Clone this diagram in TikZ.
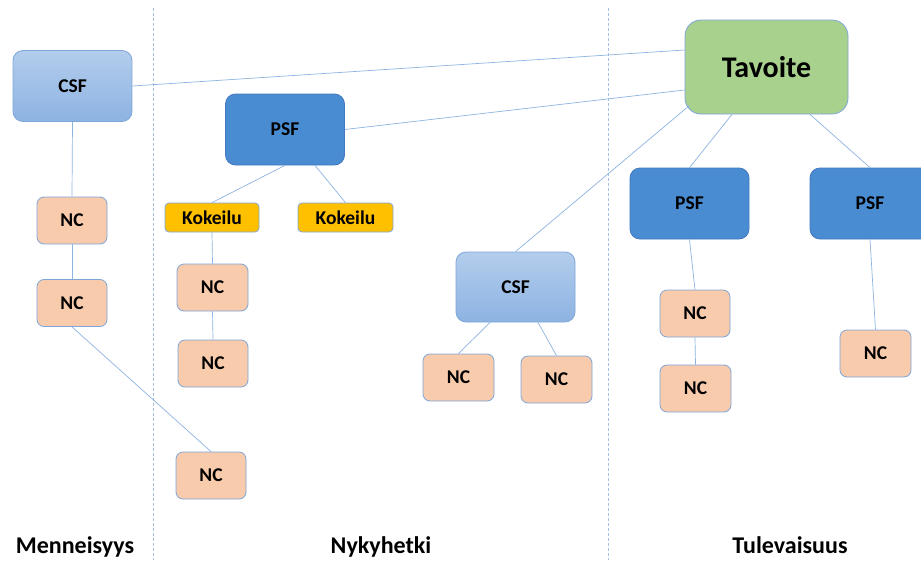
\documentclass[tikz,border=0pt]{standalone}
\usepackage{fontspec}
\setmainfont{Carlito}
\usetikzlibrary{calc}
\definecolor{csftop}{HTML}{B3CDEC}
\definecolor{csfbot}{HTML}{8DB3E2}
\definecolor{boxedge}{HTML}{7EA6D9}
\definecolor{psffill}{HTML}{4A8CD2}
\definecolor{psfedge}{HTML}{4279C0}
\definecolor{kokfill}{HTML}{FFC000}
\definecolor{ncfill}{HTML}{F8CBAD}
\definecolor{goalfill}{HTML}{A9D18E}
\definecolor{linkcol}{HTML}{8DB4E2}
\definecolor{divcol}{HTML}{A4BFE0}
\begin{document}
\begin{tikzpicture}[x=1pt,y=-1pt,
  box/.style={draw=boxedge, line width=0.8pt, inner sep=0pt, align=center,
              font=\fontsize{19.5}{21}\selectfont\bfseries},
  csf/.style={box, rounded corners=10pt, top color=csftop, bottom color=csfbot,
              minimum width=119pt, minimum height=71pt},
  psf/.style={box, rounded corners=10pt, draw=psfedge, fill=psffill,
              minimum width=119pt, minimum height=71pt},
  kok/.style={box, rounded corners=4pt, fill=kokfill,
              minimum width=94pt, minimum height=29pt},
  nc/.style={box, rounded corners=7pt, fill=ncfill,
             minimum width=70pt, minimum height=47pt},
  goalbox/.style={box, rounded corners=16pt, fill=goalfill,
                  minimum width=163pt, minimum height=94pt,
                  font=\fontsize{30}{32}\selectfont\bfseries},
  link/.style={draw=linkcol, line width=0.7pt},
  divider/.style={draw=divcol, line width=0.6pt, dash pattern=on 3pt off 2pt},
  era/.style={font=\fontsize{24}{26}\selectfont\bfseries, inner sep=0pt, anchor=base}
]
\clip (0,0) rectangle (921,560);
\fill[white] (0,0) rectangle (921,560);

% period dividers
\coordinate (d1t) at (153,8);  \coordinate (d1b) at (153,560);
\coordinate (d2t) at (608,8);  \coordinate (d2b) at (608,560);
\draw[divider] (d1t) -- (d1b);
\draw[divider] (d2t) -- (d2b);

% nodes
\node[csf] (csfA) at (72.5,86) {CSF};
\node[nc] (ncA1) at (72,220.5) {NC};
\node[nc] (ncA2) at (72,303) {NC};

\node[psf] (psfA) at (285,129.5) {PSF};
\node[kok] (kok1) at (212,217.5) {Kokeilu};
\node[kok, minimum width=95pt] (kok2) at (345.5,217.5) {Kokeilu};
\node[nc, minimum width=71pt] (ncB1) at (212.5,287.5) {NC};
\node[nc] (ncB2) at (213,363.5) {NC};
\node[nc] (ncB3) at (211,475.5) {NC};

\node[csf, minimum height=70pt] (csfB) at (515.5,287) {CSF};
\node[nc, minimum width=71pt] (ncC1) at (458.5,377.5) {NC};
\node[nc, minimum width=71pt] (ncC2) at (556.5,379.5) {NC};

\node[goalbox] (goal) at (766.5,67) {Tavoite};
\node[psf] (psfC) at (689.5,203.5) {PSF};
\node[psf, minimum width=120pt] (psfD) at (870,203.5) {PSF};
\node[nc] (ncD1) at (695,313.5) {NC};
\node[nc, minimum width=71pt] (ncD2) at (695.5,388.5) {NC};
\node[nc, minimum width=71pt] (ncE) at (875.5,353.5) {NC};

% connectors
\draw[link] (csfA.east) -- ($(goal.west)+(0,-17)$);
\draw[link] (psfA.east) -- ($(goal.west)+(0,23)$);
\draw[link] ($(goal.south west)+(5,-9)$) -- (csfB.north);
\draw[link] ($(goal.south)+(-34.5,0)$) -- (psfC.north);
\draw[link] ($(goal.south)+(43.5,0)$) -- (psfD.north);

\draw[link] (csfA.south) -- (ncA1.north);
\draw[link] (ncA1.south) -- (ncA2.north);
\draw[link] (ncA2.south) -- (ncB3.north);

\draw[link] (psfA.south) -- (kok1.north);
\draw[link] ($(psfA.south)+(30,0)$) -- (kok2.north);
\draw[link] (kok1.south) -- (ncB1.north);
\draw[link] (ncB1.south) -- (ncB2.north);

\draw[link] ($(csfB.south)+(-25.5,0)$) -- (ncC1.north);
\draw[link] ($(csfB.south)+(22.5,0)$) -- (ncC2.north);

\draw[link] (psfC.south) -- (ncD1.north);
\draw[link] (ncD1.south) -- (ncD2.north);
\draw[link] (psfD.south) -- (ncE.north);

% period labels
\node[era] (past) at (75,553) {Menneisyys};
\node[era] (now) at (381,553) {Nykyhetki};
\node[era] (future) at (790,553) {Tulevaisuus};
\end{tikzpicture}
\end{document}
